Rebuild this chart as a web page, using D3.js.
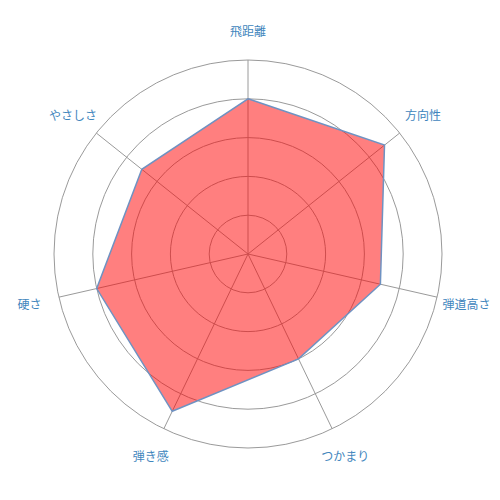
<!DOCTYPE html>
<html>
<head>
<meta charset="utf-8">
<script src="https://cdn.jsdelivr.net/npm/d3@7"></script>
<style>
  body { margin: 0; background: #fff; }
  svg text { font-family: "Noto Sans CJK JP", "Noto Sans", sans-serif; }
</style>
</head>
<body>
<svg id="chart" width="500" height="500"></svg>
<script>
const categories = ['飛距離', '方向性', '弾道高さ', 'つかまり', '弾き感', '硬さ', 'やさしさ'];
const values = [4.0, 4.5, 3.5, 3.0, 4.5, 4.0, 3.5];
const ringLevels = [1, 2, 3, 4, 5];

const cx = 248, cy = 254, R = 194, labelR = 224;
const svg = d3.select('#chart');
const g = svg.append('g').attr('transform', `translate(${cx},${cy})`);

const r = d3.scaleLinear().domain([0, 5]).range([0, R]);
const angle = d3.scalePoint().domain(categories).range([0, 2 * Math.PI * (categories.length - 1) / categories.length]);

const px = (a, rad) => rad * Math.sin(a);
const py = (a, rad) => -rad * Math.cos(a);

// rings
g.selectAll('.ring').data(ringLevels).enter()
  .append('circle')
  .attr('r', d => r(d))
  .attr('fill', 'none')
  .attr('stroke', '#9a9a9a')
  .attr('stroke-width', 1);

// spokes
g.selectAll('.spoke').data(categories).enter()
  .append('line')
  .attr('x1', 0).attr('y1', 0)
  .attr('x2', d => px(angle(d), R))
  .attr('y2', d => py(angle(d), R))
  .attr('stroke', '#9a9a9a')
  .attr('stroke-width', 1);

// data polygon
const line = d3.lineRadial()
  .angle((d, i) => angle(categories[i]))
  .radius(d => r(d))
  .curve(d3.curveLinearClosed);

g.append('path')
  .datum(values)
  .attr('d', line)
  .attr('fill', 'rgba(255,0,0,0.5)')
  .attr('stroke', '#6f92c2')
  .attr('stroke-width', 1.5);

// labels
g.selectAll('.label').data(categories).enter()
  .append('text')
  .attr('x', d => px(angle(d), labelR))
  .attr('y', d => py(angle(d), labelR))
  .attr('text-anchor', 'middle')
  .attr('dominant-baseline', 'central')
  .attr('font-size', 12)
  .attr('fill', '#3f86bd')
  .text(d => d);
</script>
</body>
</html>
